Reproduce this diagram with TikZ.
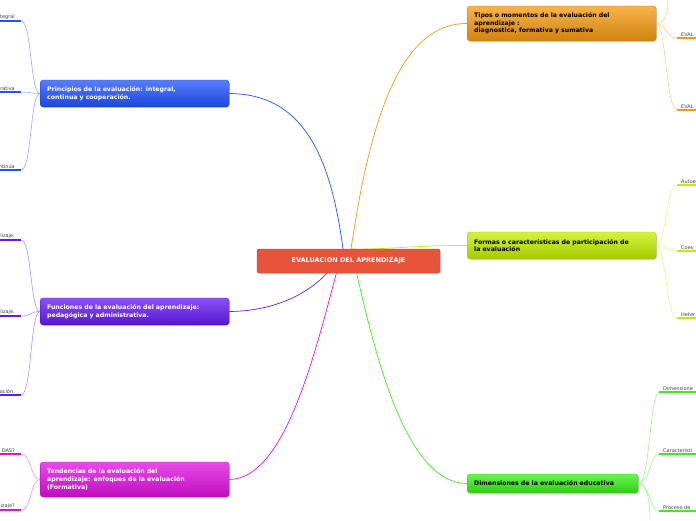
\documentclass[tikz,border=0pt]{standalone}
\usepackage{fontspec}
\setmainfont{DejaVu Sans}
\usetikzlibrary{positioning,shadows}

\definecolor{centre}{HTML}{E8543A}
\definecolor{cblue}{HTML}{1F52FF}
\definecolor{cpurple}{HTML}{6418F5}
\definecolor{cmagenta}{HTML}{E010E0}
\definecolor{corange}{HTML}{F59A10}
\definecolor{clime}{HTML}{C4EE00}
\definecolor{cgreen}{HTML}{38F018}

\tikzset{
  mainbox/.style={draw=centre!80!black, fill=centre, text=white, rounded corners=2pt,
    font=\bfseries\fontsize{6.5}{8}\selectfont, minimum width=183pt, minimum height=24pt,
    inner sep=0pt, drop shadow={opacity=.25,shadow xshift=.8pt,shadow yshift=-.8pt}},
  topic/.style={rounded corners=3pt, top color=#1!75!white, bottom color=#1!85!black,
    draw=#1!80!black, line width=.3pt, text width=175pt, align=left, inner xsep=7pt,
    inner ysep=3pt, font=\bfseries\fontsize{6.2}{7.6}\selectfont,
    drop shadow={opacity=.25,shadow xshift=.8pt,shadow yshift=-.8pt}},
  subl/.style={anchor=south east, inner sep=1pt, font=\fontsize{5}{6}\selectfont, text=black!75},
  subr/.style={anchor=south west, inner sep=1pt, font=\fontsize{5}{6}\selectfont, text=black!75},
  branch/.style={draw=#1, line width=.7pt},
  twig/.style={draw=#1!55!white, line width=.5pt},
  bar/.style={draw=#1, line width=2.2pt},
}

\begin{document}
\begin{tikzpicture}[x=1pt,y=-1pt]
\useasboundingbox (0,0) rectangle (696,520);
\clip (0,0) rectangle (696,520);

% centre anchors
\coordinate (p0) at (343,249);
\coordinate (q0) at (351,249);

% left topics
\node[topic=cblue, text=white, anchor=west, minimum height=27pt] (principios) at (40,93.5)
  {Principios de la evaluación: integral,\\continua y cooperación.};
\node[topic=cpurple, text=white, anchor=west, minimum height=27pt] (funciones) at (40,311.5)
  {Funciones de la evaluación del aprendizaje:\\pedagógica y administrativa.};
\node[topic=cmagenta, text=white, anchor=west, minimum height=35pt] (tendencias) at (40,479.5)
  {Tendencias de la evaluación del\\aprendizaje: enfoques de la evaluación\\(Formativa)};

% right topics
\node[topic=corange, text=black, anchor=west, minimum height=35pt] (tipos) at (467,23.5)
  {Tipos o momentos de la evaluación del\\aprendizaje :\\diagnostica, formativa y sumativa};
\node[topic=clime, text=black, anchor=west, minimum height=27pt] (formas) at (467,245.5)
  {Formas o características de participación de\\la evaluación};
\node[topic=cgreen, text=black, anchor=west, text width=157pt, minimum height=19pt] (dimensiones) at (467,483.5)
  {Dimensiones de la evaluación educativa};

% main branches
\draw[branch=cblue] (p0) .. controls (330,150) and (300,94) .. (principios.east);
\draw[branch=cpurple] (p0) .. controls (330,280) and (290,311) .. (funciones.east);
\draw[branch=cmagenta] (p0) .. controls (320,330) and (290,479) .. (tendencias.east);
\draw[branch=corange] (q0) .. controls (370,120) and (400,23) .. (tipos.west);
\draw[branch=clime] (q0) .. controls (380,250) and (420,245) .. (formas.west);
\draw[branch=cgreen] (q0) .. controls (370,330) and (400,483) .. (dimensiones.west);

\node[mainbox] (evaluacion) at (348.5,261) {EVALUACION DEL APRENDIZAJE};

% left leaves
\foreach \y/\txt [count=\i] in {21/tegral, 92/rativa, 170/ntinúa}{
  \node[subl] (pr\i) at (16,\y) {\txt};
  \draw[twig=cblue] (principios.west) .. controls (30,93.5) and (32,\y) .. (21,\y);
  \draw[bar=cblue] (0,\y) -- (21,\y);
}
\foreach \y/\txt [count=\i] in {240/lizaje., 316/lizaje., 395/ación.}{
  \node[subl] (fu\i) at (16,\y) {\txt};
  \draw[twig=cpurple] (funciones.west) .. controls (30,311.5) and (32,\y) .. (21,\y);
  \draw[bar=cpurple] (0,\y) -- (21,\y);
}
\foreach \y/\txt [count=\i] in {454/DAS?, 510/izaje?}{
  \node[subl] (te\i) at (16,\y) {\txt};
  \draw[twig=cmagenta] (tendencias.west) .. controls (30,479.5) and (32,\y) .. (21,\y);
  \draw[bar=cmagenta] (0,\y) -- (21,\y);
}

% right leaves
\coordinate (tiup) at (668,0);
\draw[twig=corange] (tipos.east) .. controls (666,23.5) and (668,10) .. (tiup);
\foreach \y/\txt [count=\i] in {38/EVAL, 110/EVAL}{
  \node[subr] (ti\i) at (680,\y) {\txt};
  \draw[twig=corange] (tipos.east) .. controls (666,23.5) and (666,\y) .. (677,\y);
  \draw[bar=corange] (677,\y) -- (700,\y);
}
\foreach \y/\txt [count=\i] in {185/Autoe, 251/Coev, 318/Heter}{
  \node[subr] (fo\i) at (680,\y) {\txt};
  \draw[twig=clime] (formas.east) .. controls (666,245.5) and (666,\y) .. (677,\y);
  \draw[bar=clime] (677,\y) -- (700,\y);
}
\coordinate (didown) at (650,520);
\draw[twig=cgreen] (dimensiones.east) .. controls (648,483.5) and (650,505) .. (didown);
\foreach \y/\txt [count=\i] in {392/Dimensione, 454/Caracteristi, 511/Proceso de}{
  \node[subr] (di\i) at (662,\y) {\txt};
  \draw[twig=cgreen] (dimensiones.east) .. controls (650,483.5) and (650,\y) .. (659,\y);
  \draw[bar=cgreen] (659,\y) -- (700,\y);
}
\end{tikzpicture}
\end{document}
